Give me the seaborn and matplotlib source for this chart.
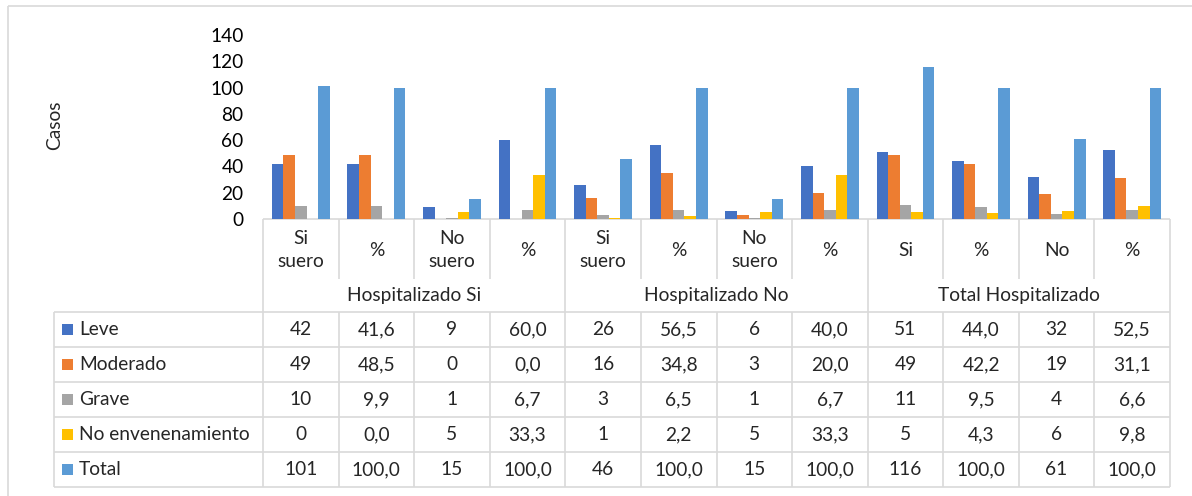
import numpy as np
import pandas as pd
import matplotlib
matplotlib.use("Agg")
import matplotlib.pyplot as plt
import seaborn as sns

# ---- data ----
series = ["Leve", "Moderado", "Grave", "No envenenamiento", "Total"]
columns = ["Si\nsuero", "%", "No\nsuero", "%",
           "Si\nsuero", "%", "No\nsuero", "%",
           "Si", "%", "No", "%"]
groups = ["Hospitalizado Si", "Hospitalizado No", "Total Hospitalizado"]
is_pct = [False, True, False, True, False, True, False, True, False, True, False, True]

leve = [42, 41.6, 9, 60.0, 26, 56.5, 6, 40.0, 51, 44.0, 32, 52.5]
moderado = [49, 48.5, 0, 0.0, 16, 34.8, 3, 20.0, 49, 42.2, 19, 31.1]
grave = [10, 9.9, 1, 6.7, 3, 6.5, 1, 6.7, 11, 9.5, 4, 6.6]
no_env = [0, 0.0, 5, 33.3, 1, 2.2, 5, 33.3, 5, 4.3, 6, 9.8]
total = [101, 100.0, 15, 100.0, 46, 100.0, 15, 100.0, 116, 100.0, 61, 100.0]

values = [leve, moderado, grave, no_env, total]
colors = ["#4472C4", "#ED7D31", "#A5A5A5", "#FFC000", "#5B9BD5"]
yticks = [0, 20, 40, 60, 80, 100, 120, 140]

df = pd.DataFrame(
    [(i, s, v) for s, vals in zip(series, values) for i, v in enumerate(vals)],
    columns=["col", "serie", "valor"],
)

sns.set_theme(style="white")
plt.rcParams["font.family"] = ["Lato", "DejaVu Sans"]
FS = 13.8
GRID = "#D9D9D9"

W, H = 1192, 496
fig = plt.figure(figsize=(W / 100, H / 100), dpi=100)

# plot area in pixels
xL, xR = 263, 1170
y0, yTop = 219, 35
ax = fig.add_axes([xL / W, (H - y0) / H, (xR - xL) / W, (y0 - yTop) / H])
sns.barplot(data=df, x="col", y="valor", hue="serie", hue_order=series,
            palette=colors, saturation=1, width=0.765, linewidth=0,
            legend=False, ax=ax)
ax.set_xlim(-0.5, len(columns) - 0.5)
ax.set_ylim(0, 140)
ax.set_yticks(yticks)
ax.set_yticklabels([str(t) for t in yticks], fontsize=FS, color="#000000")
ax.tick_params(axis="y", length=0, pad=14)
ax.set_xticks([])
ax.set_xlabel("")
ax.set_ylabel("")
for side in ["top", "right", "left", "bottom"]:
    ax.spines[side].set_visible(False)
ax.patch.set_alpha(0)

# overlay in pixel space for the data table and frame
ov = fig.add_axes([0, 0, 1, 1], zorder=-1)
ov.set_xlim(0, W)
ov.set_ylim(H, 0)
ov.axis("off")

def hline(y, x1, x2):
    ov.plot([x1, x2], [y, y], color=GRID, lw=1.2, solid_capstyle="butt")

def vline(x, y1, y2):
    ov.plot([x, x], [y1, y2], color=GRID, lw=1.2, solid_capstyle="butt")

# chart frame
hline(6, 8, W)
vline(8, 6, H)

fig.text(55 / W, 1 - 125 / H, "Casos", rotation=90, ha="center", va="center",
         fontsize=FS)

# column boundaries via the bar axes data scale
def col_px(xdata):
    disp = ax.transData.transform((xdata, 0))[0]
    return disp * W / fig.bbox.width

n = len(columns)
edges = [col_px(i - 0.5) for i in range(n + 1)]
centers = [col_px(i) for i in range(n)]

x0 = 54
yCatBot = 279
yGrpBot = 312
row_h = 35
rows_y = [yGrpBot + k * row_h for k in range(len(series) + 1)]

hline(y0, edges[0], edges[-1])
for y in rows_y:
    hline(y, x0, edges[-1])
vline(x0, rows_y[0], rows_y[-1])
for k, xe in enumerate(edges):
    if k % 4 == 0:
        vline(xe, y0, rows_y[-1])
    else:
        vline(xe, y0, yCatBot)
        vline(xe, yGrpBot, rows_y[-1])

# header texts
for cx, lab in zip(centers, columns):
    ov.text(cx, 250, lab, ha="center", va="center", fontsize=FS,
            linespacing=1.4)
for g, name in enumerate(groups):
    cx = (edges[4 * g] + edges[4 * g + 4]) / 2
    ov.text(cx, 296, name, ha="center", va="center", fontsize=FS)

# data rows with legend keys
for r, (name, vals, c) in enumerate(zip(series, values, colors)):
    cy = (rows_y[r] + rows_y[r + 1]) / 2
    ov.add_patch(plt.Rectangle((62, cy - 5.5), 11, 11, color=c, lw=0))
    ov.text(79, cy, name, ha="left", va="center", fontsize=FS)
    for cx, v, p in zip(centers, vals, is_pct):
        s = f"{v:.1f}".replace(".", ",") if p else f"{int(v)}"
        ov.text(cx, cy, s, ha="center", va="center", fontsize=FS)

fig.savefig("out.png", dpi=100)
